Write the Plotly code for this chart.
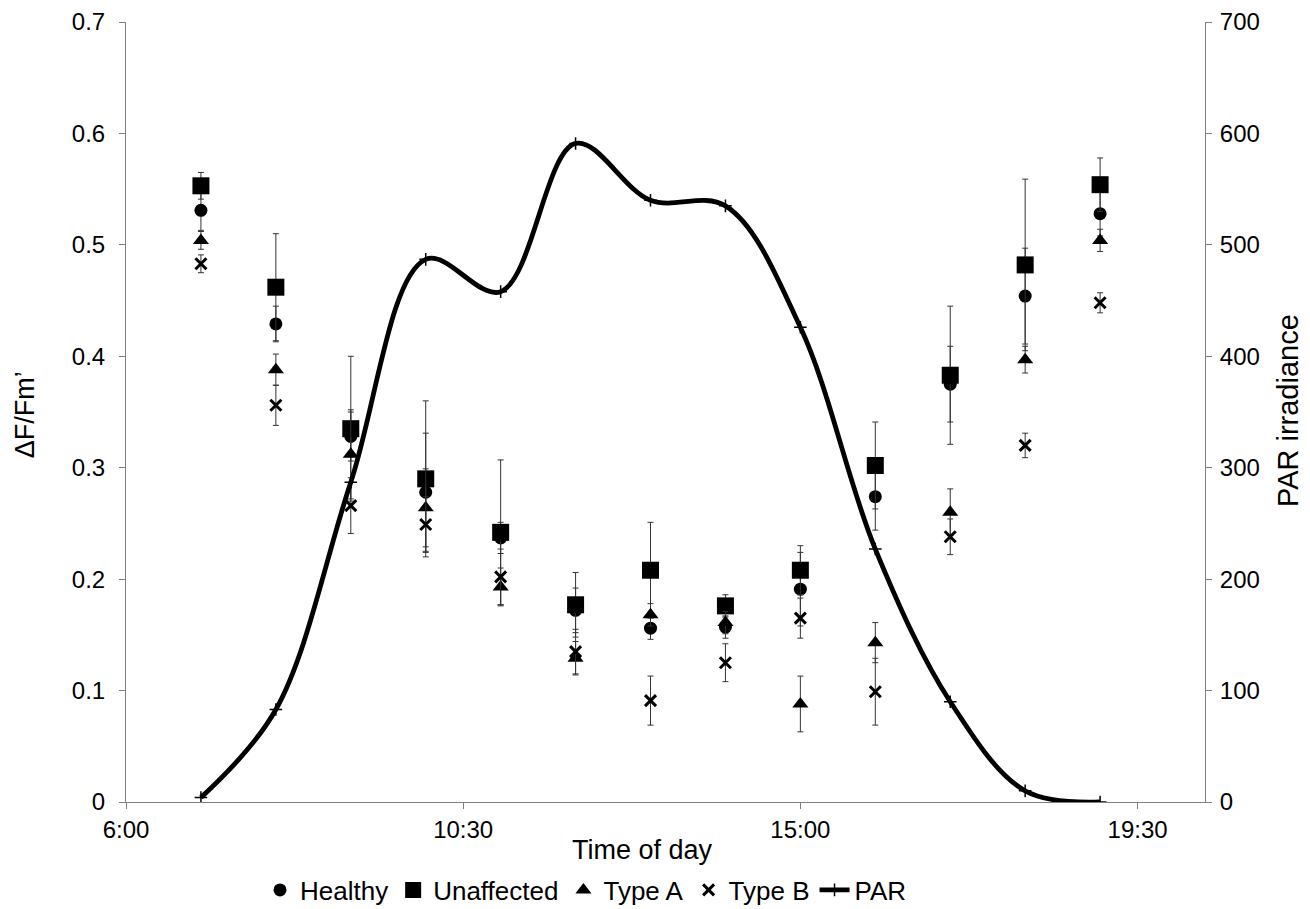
import plotly.graph_objects as go

hours = [7, 8, 9, 10, 11, 12, 13, 14, 15, 16, 17, 18, 19]

healthy = [0.531, 0.429, 0.328, 0.278, 0.237, 0.172, 0.156, 0.157, 0.191, 0.274, 0.375, 0.454, 0.528]
healthy_err = [0.018, 0.016, 0.022, 0.053, 0.014, 0.020, 0.010, 0.010, 0.033, 0.030, 0.034, 0.043, 0.020]

unaffected = [0.553, 0.462, 0.335, 0.290, 0.242, 0.177, 0.208, 0.176, 0.208, 0.302, 0.383, 0.482, 0.554]
unaffected_err = [0.012, 0.048, 0.065, 0.070, 0.065, 0.029, 0.043, 0.010, 0.022, 0.039, 0.062, 0.077, 0.024]

type_a = [0.504, 0.388, 0.312, 0.264, 0.193, 0.129, 0.168, 0.161, 0.088, 0.143, 0.260, 0.397, 0.504]
type_a_err = [0.008, 0.014, 0.040, 0.035, 0.017, 0.015, 0.010, 0.010, 0.025, 0.018, 0.021, 0.012, 0.010]

type_b = [0.483, 0.356, 0.266, 0.249, 0.202, 0.135, 0.091, 0.125, 0.165, 0.099, 0.238, 0.320, 0.448]
type_b_err = [0.008, 0.018, 0.025, 0.025, 0.025, 0.020, 0.022, 0.017, 0.018, 0.030, 0.016, 0.011, 0.009]

par = [4, 83, 287, 487, 458, 591, 540, 535, 426, 227, 90, 10, 0]

x_tickvals = [6, 10.5, 15, 19.5]
x_ticktext = ["6:00", "10:30", "15:00", "19:30"]
y_tickvals = [0, 0.1, 0.2, 0.3, 0.4, 0.5, 0.6, 0.7]
y_ticktext = ["0", "0.1", "0.2", "0.3", "0.4", "0.5", "0.6", "0.7"]
y2_tickvals = [0, 100, 200, 300, 400, 500, 600, 700]

FONT = "Liberation Sans, Arial, sans-serif"
ERR_COLOR = "#333333"
AX_COLOR = "#7f7f7f"


def err(arr):
    return dict(type="data", array=arr, visible=True, color=ERR_COLOR, thickness=1, width=3)


fig = go.Figure()
fig.add_trace(go.Scatter(x=hours, y=healthy, mode="markers", name="Healthy",
                         marker=dict(symbol="circle", size=13, color="black"),
                         error_y=err(healthy_err)))
fig.add_trace(go.Scatter(x=hours, y=unaffected, mode="markers", name="Unaffected",
                         marker=dict(symbol="square", size=17, color="black"),
                         error_y=err(unaffected_err)))
fig.add_trace(go.Scatter(x=hours, y=type_a, mode="markers", name="Type A",
                         marker=dict(symbol="triangle-up", size=14, color="black"),
                         error_y=err(type_a_err)))
fig.add_trace(go.Scatter(x=hours, y=type_b, mode="markers", name="Type B",
                         marker=dict(symbol="x-thin", size=11, color="black",
                                     line=dict(width=3, color="black")),
                         error_y=err(type_b_err)))
fig.add_trace(go.Scatter(x=hours, y=par, mode="lines+markers", name="PAR", yaxis="y2",
                         line=dict(color="black", width=4.8, shape="spline", smoothing=1),
                         marker=dict(symbol="cross-thin", size=9, color="black",
                                     line=dict(width=1.5, color="black"))))

axis_common = dict(showgrid=False, zeroline=False, showline=True, linecolor=AX_COLOR,
                   linewidth=1, ticks="outside", ticklen=6, tickcolor=AX_COLOR,
                   automargin=False,
                   tickfont=dict(family=FONT, size=24, color="black"))

W, H = 1302, 901
fig.update_layout(
    width=W, height=H,
    paper_bgcolor="white", plot_bgcolor="white",
    margin=dict(l=118, r=105, t=14, b=107),
    font=dict(family=FONT, size=24, color="black"),
    showlegend=True,
    legend=dict(orientation="h", xref="container", yref="container",
                x=252 / W, xanchor="left", y=(H - 882) / H, yanchor="middle",
                font=dict(family=FONT, size=26, color="black"), itemwidth=30,
                bgcolor="rgba(0,0,0,0)"),
    xaxis=dict(range=[6, 20.4], tickvals=x_tickvals, ticktext=x_ticktext, **axis_common),
    yaxis=dict(range=[0, 0.7], tickvals=y_tickvals, ticktext=y_ticktext,
               ticklabelstandoff=9, **axis_common),
    yaxis2=dict(range=[0, 700], tickvals=y2_tickvals, overlaying="y", side="right",
                ticklabelstandoff=3, **axis_common),
    annotations=[
        dict(text="Time of day", xref="paper", yref="paper", x=0.4787, y=-0.062,
             xanchor="center", yanchor="middle", showarrow=False,
             font=dict(family=FONT, size=27, color="black")),
        dict(text="ΔF/Fm’", xref="paper", yref="paper", x=-0.0935, y=0.496,
             xanchor="center", yanchor="middle", showarrow=False, textangle=-90,
             font=dict(family=FONT, size=27, color="black")),
        dict(text="PAR irradiance", xref="paper", yref="paper", x=1.0775, y=0.502,
             xanchor="center", yanchor="middle", showarrow=False, textangle=-90,
             font=dict(family=FONT, size=29, color="black")),
    ],
)

fig.write_html("out.html")
